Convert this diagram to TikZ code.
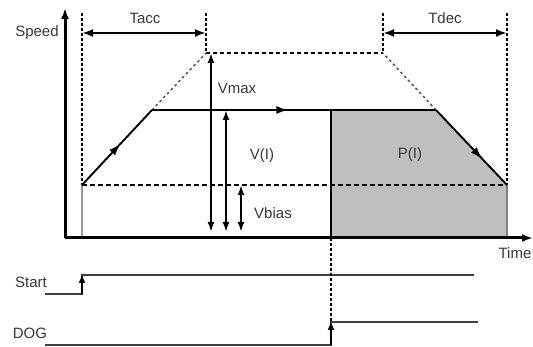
\documentclass[tikz,border=0pt]{standalone}
\usepackage{fontspec}
\setmainfont{Liberation Sans}
\usetikzlibrary{arrows.meta,decorations.markings}

\begin{document}
\begin{tikzpicture}[x=1pt,y=-1pt,
  axis/.style={line width=3pt, -{Latex[length=11pt,width=8pt]}},
  guide/.style={line width=2.6pt, dash pattern=on 3pt off 2pt},
  bias/.style={line width=2.6pt, dash pattern=on 5pt off 3pt},
  topguide/.style={line width=1.3pt, dash pattern=on 4pt off 3pt},
  extension/.style={line width=1.6pt, dash pattern=on 2.5pt off 3pt, draw=black!65},
  span/.style={line width=2.4pt, {Latex[length=11pt,width=8pt]}-{Latex[length=11pt,width=8pt]}},
  measure/.style={line width=2.4pt, {Latex[length=10pt,width=7pt]}-{Latex[length=10pt,width=7pt]}},
  profile/.style={line width=1.9pt},
  midarrow/.style={postaction=decorate, decoration={markings,
      mark=at position #1 with {\arrow{Latex[length=12pt,width=8pt]}}}},
  signal/.style={line width=1.3pt, draw=black!75},
  edge/.style={line width=1.8pt, -{Latex[length=9pt,width=7pt]}},
  lbl/.style={text=black!78, inner sep=0pt, font=\fontsize{15}{17}\selectfont}]

\useasboundingbox (0,0) rectangle (533,347);

% key points of the speed profile
\coordinate (O) at (65,238);
\coordinate (ytop) at (65,8);
\coordinate (xend) at (533,238);
\coordinate (s0) at (82,185);
\coordinate (s1) at (152,110);
\coordinate (pk1) at (206,53);
\coordinate (pk2) at (383,53);
\coordinate (d0) at (436,110);
\coordinate (d1) at (507,185);
\coordinate (dogx) at (331,110);

% shaded travel area after DOG
\fill[black!25] (dogx) -- (d0) -- (d1) -- (507,238) -- (331,238) -- cycle;
\draw[line width=1.2pt] (dogx) -- (331,238);

% gray stubs under the bias level
\draw[line width=1.6pt, black!40] (s0) -- (82,238);
\draw[line width=1.6pt, black!50] (d1) -- (507,238);

% time guides
\draw[guide] (82,13) -- (s0);
\draw[guide] (206,13) -- (pk1);
\draw[guide] (383,13) -- (pk2);
\draw[guide] (507,13) -- (d1);
\draw[topguide] (pk1) -- (pk2);
\draw[extension] (s1) -- (pk1);
\draw[extension] (d0) -- (pk2);
\draw[bias] (s0) -- (d1);

% Tacc / Tdec spans
\coordinate (ta1) at (82,33);  \coordinate (ta2) at (206,33);
\coordinate (td1) at (383,33); \coordinate (td2) at (507,33);
\draw[span] (ta1) -- (ta2);
\draw[span] (td1) -- (td2);
\node[lbl] (tacc) at (145,18) {Tacc};
\node[lbl] (tdec) at (445,18) {Tdec};

% speed profile
\draw[profile, midarrow=0.55] (s0) -- (s1);
\draw[profile, midarrow=0.48] (s1) -- (d0);
\draw[profile, midarrow=0.65] (d0) -- (d1);

% axes
\draw[axis] (O) -- (ytop);
\draw[axis] (O) -- (xend);
\node[lbl] (speed) at (37,33) {Speed};
\node[lbl] (time) at (515,253) {Time};

% speed measures
\coordinate (vm1) at (211,53);  \coordinate (vm2) at (211,232);
\coordinate (vi1) at (226,110); \coordinate (vi2) at (226,232);
\coordinate (vb1) at (241,185); \coordinate (vb2) at (241,232);
\draw[measure] (vm1) -- (vm2);
\draw[measure] (vi1) -- (vi2);
\draw[measure] (vb1) -- (vb2);
\node[lbl] (vmax) at (237,88) {Vmax};
\node[lbl] (vi) at (262,156) {V(I)};
\node[lbl] (vbias) at (273,213) {Vbias};
\node[lbl] (pi) at (410,155) {P(I)};

% input signals
\node[lbl] (start) at (31,282) {Start};
\node[lbl] (dog) at (30,333) {DOG};
\coordinate (st0) at (45,294);  \coordinate (st1) at (82,294);
\coordinate (st2) at (82,275);  \coordinate (st3) at (474,275);
\draw[signal] (st0) -- (st1) -- (st2) -- (st3);
\draw[edge] (st1) -- (82,274);
\coordinate (dg0) at (45,345);  \coordinate (dg1) at (331,345);
\coordinate (dg2) at (331,322); \coordinate (dg3) at (478,322);
\draw[signal] (dg0) -- (dg1) -- (dg2) -- (dg3);
\draw[guide] (331,238) -- (dg2);
\draw[edge] (dg1) -- (331,321);
\end{tikzpicture}
\end{document}
